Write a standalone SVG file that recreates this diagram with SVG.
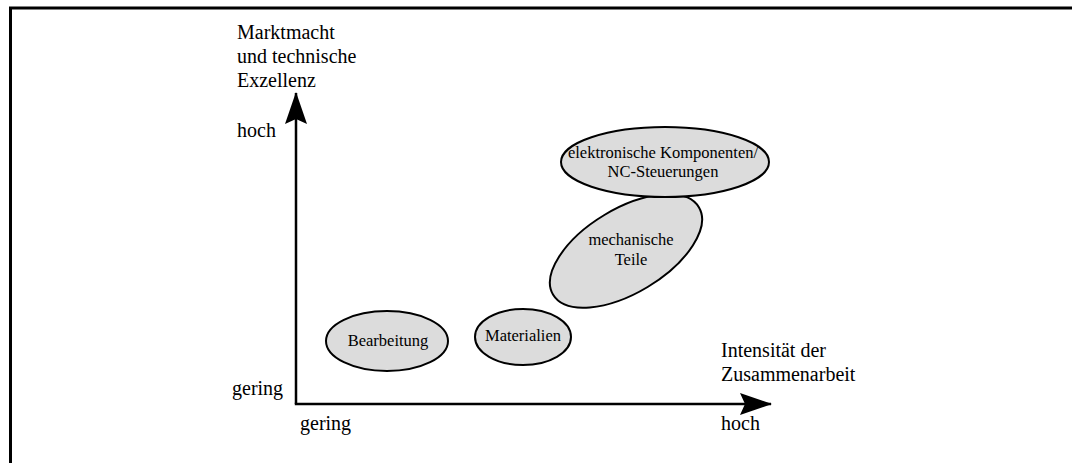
<svg xmlns="http://www.w3.org/2000/svg" width="1072" height="463" viewBox="0 0 1072 463">
  <defs>
    <style>
      .lbl { font-family: "Liberation Serif", "Times New Roman", serif; font-size: 20px; fill: #000; }
      .node ellipse { fill: #dcdcdc; stroke: #000; stroke-width: 2; }
      .node text { font-family: "Liberation Serif", "Times New Roman", serif; font-size: 16.5px; fill: #000; text-anchor: middle; }
      .axis { stroke: #000; stroke-width: 2.5; fill: none; }
    </style>
    <marker id="arrow" viewBox="0 0 32 22" refX="31" refY="11" markerWidth="32" markerHeight="22" markerUnits="userSpaceOnUse" orient="auto">
      <path d="M0,0 L32,11 L0,22 L5,11 Z" fill="#000"/>
    </marker>
  </defs>

  <rect width="1072" height="463" fill="#fff"/>

  <!-- frame -->
  <path d="M10.5,463 L10.5,8 L1072,8" fill="none" stroke="#000" stroke-width="3"/>

  <!-- axes -->
  <g id="connectors">
    <path class="axis" d="M296,404 L296,93" marker-end="url(#arrow)"/>
    <path class="axis" d="M294.8,404 L771,404" marker-end="url(#arrow)"/>
  </g>

  <!-- axis labels -->
  <g id="labels">
    <text class="lbl" x="237" y="39">Marktmacht</text>
    <text class="lbl" x="237" y="63">und technische</text>
    <text class="lbl" x="237" y="87">Exzellenz</text>
    <text class="lbl" x="237" y="137">hoch</text>
    <text class="lbl" x="232" y="395">gering</text>
    <text class="lbl" x="300" y="430">gering</text>
    <text class="lbl" x="721" y="357">Intensität der</text>
    <text class="lbl" x="721" y="381">Zusammenarbeit</text>
    <text class="lbl" x="721" y="430">hoch</text>
  </g>

  <g id="bearbeitung" class="node">
    <ellipse cx="387" cy="341" rx="61" ry="30"/>
    <text x="388" y="346">Bearbeitung</text>
  </g>

  <g id="materialien" class="node">
    <ellipse cx="523" cy="337" rx="48" ry="28"/>
    <text x="523" y="341">Materialien</text>
  </g>

  <g id="mechanische-teile" class="node">
    <ellipse cx="626" cy="251" rx="85" ry="42" transform="rotate(-31 626 251)"/>
    <text x="631" y="245">mechanische</text>
    <text x="631" y="265">Teile</text>
  </g>

  <g id="elektronische-komponenten" class="node">
    <ellipse cx="665" cy="162" rx="104" ry="35"/>
    <text x="663" y="158">elektronische Komponenten/</text>
    <text x="663" y="177">NC-Steuerungen</text>
  </g>
</svg>
